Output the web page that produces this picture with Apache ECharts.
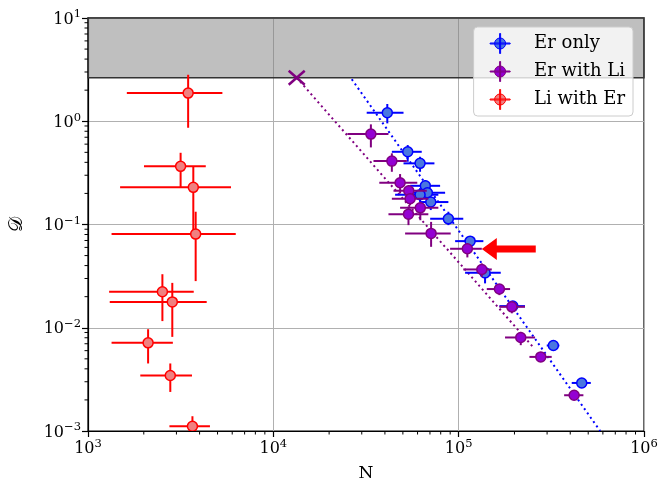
<!DOCTYPE html>
<html>
<head>
<meta charset="utf-8">
<script src="https://cdn.jsdelivr.net/npm/echarts@6/dist/echarts.min.js"></script>
<style>html,body{margin:0;padding:0;background:#fff}#c{width:660px;height:483px}</style>
</head>
<body>
<div id="c"></div>
<script>
// Each row: [N, N_low, N_high, D, D_low, D_high]
const erOnly = [
  [41200, 31900, 50400, 1.21, 0.954, 1.47],
  [53100, 43600, 63200, 0.506, 0.405, 0.588],
  [61900, 50400, 74000, 0.391, 0.324, 0.453],
  [66100, 54700, 79400, 0.237, 0.2015, 0.269],
  [67800, 56100, 84500, 0.203, 0.172, 0.236],
  [61900, 45400, 77700, 0.194, 0.165, 0.225],
  [70700, 61900, 88000, 0.165, 0.138, 0.185],
  [88000, 70200, 105900, 0.1135, 0.0986, 0.133],
  [115300, 95700, 135900, 0.069, 0.0608, 0.0773],
  [138800, 108300, 168700, 0.034, 0.0269, 0.0389],
  [195900, 165900, 228000, 0.0162, 0.0142, 0.0181],
  [324300, 298700, 349400, 0.00673, 0.0063, 0.0072],
  [461400, 407400, 516400, 0.00292, 0.00275, 0.0031]
];
const erWithLi = [
  [33600, 25100, 41800, 0.751, 0.558, 0.933],
  [43600, 34700, 52500, 0.411, 0.324, 0.489],
  [48300, 37300, 59800, 0.2535, 0.200, 0.308],
  [53800, 44500, 67300, 0.212, 0.185, 0.241],
  [54700, 43600, 68600, 0.1775, 0.154, 0.200],
  [62100, 48300, 77700, 0.145, 0.110, 0.166],
  [53600, 41800, 68600, 0.126, 0.0986, 0.149],
  [71000, 51400, 90600, 0.082, 0.0608, 0.106],
  [111400, 89900, 133300, 0.0582, 0.048, 0.0656],
  [133300, 105900, 150900, 0.0367, 0.0311, 0.042],
  [165900, 141800, 189400, 0.0237, 0.0207, 0.0265],
  [193600, 165900, 228000, 0.01595, 0.0138, 0.0181],
  [216300, 177900, 258400, 0.00805, 0.00678, 0.00912],
  [277300, 240900, 317700, 0.00522, 0.00468, 0.00583],
  [419800, 370700, 471000, 0.00222, 0.00199, 0.00248]
];
const liWithEr = [
  [3470, 1620, 5310, 1.875, 0.865, 2.82],
  [3160, 2005, 4320, 0.366, 0.229, 0.495],
  [3700, 1490, 5910, 0.229, 0.0826, 0.362],
  [3810, 1340, 6270, 0.0807, 0.0283, 0.133],
  [2520, 1300, 3720, 0.0223, 0.0116, 0.033],
  [2850, 1310, 4370, 0.0178, 0.00816, 0.0272],
  [2110, 1340, 2870, 0.00714, 0.00451, 0.00968],
  [2780, 1915, 3640, 0.00345, 0.00239, 0.00451],
  [3660, 2750, 4550, 0.00111, 0.00089, 0.00139]
];
const limitPoint = [13370, 2.64];
const bandRange = [2.64, 10];
const fitErOnly = [[26500, 2.55], [580000, 0.001]];
const fitErWithLi = [[13370, 2.64], [252000, 0.0065]];
const arrowPts = [[133300, 0.0578, 260600, 0.0578]];
const xRange = [1e3, 1e6];
const yRange = [1e-3, 10];
const minorMultipliers = [2, 3, 4, 5, 6, 7, 8, 9];
const xDecades = [1e3, 1e4, 1e5];
const yDecades = [1e-3, 1e-2, 1e-1, 1];

const F = 'DejaVu Serif';
const C = {
  blueLine: '#0000ff', blueFace: '#4a77e0',
  purpLine: '#800080', purpFace: '#9400d3',
  redLine: '#ff0000', redFace: '#f08080'
};

const xMinor = [], yMinor = [];
xDecades.forEach(d => minorMultipliers.forEach(m => xMinor.push([d * m, yRange[0]])));
yDecades.forEach(d => minorMultipliers.forEach(m => yMinor.push([xRange[0], d * m])));

function barsRender(color) {
  return function (params, api) {
    const x = api.value(0), xl = api.value(1), xh = api.value(2);
    const y = api.value(3), yl = api.value(4), yh = api.value(5);
    const a = api.coord([xl, y]), b = api.coord([xh, y]);
    const d = api.coord([x, yl]), e = api.coord([x, yh]);
    return { type: 'group', children: [
      { type: 'line', shape: { x1: a[0], y1: a[1], x2: b[0], y2: b[1] }, style: { stroke: color, lineWidth: 2 } },
      { type: 'line', shape: { x1: d[0], y1: d[1], x2: e[0], y2: e[1] }, style: { stroke: color, lineWidth: 2 } }
    ]};
  };
}
function markRender(face, edge) {
  return function (params, api) {
    const c = api.coord([api.value(0), api.value(3)]);
    return { type: 'circle', shape: { cx: c[0], cy: c[1], r: 5 }, style: { fill: face, stroke: edge, lineWidth: 1.5 } };
  };
}
const enc6 = { x: [0, 1, 2], y: [3, 4, 5] };

function errSeries(name, data, line, face, z) {
  return [
    { name: name, type: 'custom', coordinateSystem: 'cartesian2d', data: data, encode: enc6, z: z,
      renderItem: barsRender(line), itemStyle: { color: face }, silent: true, clip: true },
    { name: name, type: 'custom', coordinateSystem: 'cartesian2d', data: data, encode: enc6, z: z + 0.5,
      renderItem: markRender(face, line), itemStyle: { color: face }, silent: true, clip: true }
  ];
}

const ebIcon = 'path://M0,9.5 L20,9.5 L20,10.5 L0,10.5 Z M9.5,0 L10.5,0 L10.5,20 L9.5,20 Z M15.5,10 A5.5,5.5 0 1,1 4.5,10 A5.5,5.5 0 1,1 15.5,10 Z';

function fmt(v) {
  const e = Math.round(Math.log10(v));
  return '{b|10}{s|' + (e < 0 ? '\u2212' + (-e) : e) + '}';
}
const rich = {
  b: { fontFamily: F, fontSize: 16, color: '#000', verticalAlign: 'bottom' },
  s: { fontFamily: F, fontSize: 11.5, color: '#000', verticalAlign: 'bottom', padding: [0, 0, 7, 0] }
};

const chart = echarts.init(document.getElementById('c'), null, { renderer: 'canvas' });
chart.setOption({
  animation: false,
  backgroundColor: '#fff',
  grid: { left: 88, right: 16, top: 18, bottom: 52, containLabel: false, outerBoundsMode: 'none',
    show: true, borderColor: '#000', borderWidth: 1.2, backgroundColor: 'transparent' },
  legend: {
    orient: 'vertical', right: 27, top: 27,
    backgroundColor: 'rgba(255,255,255,0.8)', borderColor: '#cccccc', borderWidth: 1, borderRadius: 4,
    padding: [6, 8, 6, 16], itemGap: 7, itemWidth: 20, itemHeight: 20,
    textStyle: { fontFamily: F, fontSize: 18, color: '#000', padding: [0, 0, 0, 19] },
    data: [
      { name: 'Er only', icon: ebIcon, itemStyle: { color: C.blueFace, borderColor: C.blueLine, borderWidth: 1 } },
      { name: 'Er with Li', icon: ebIcon, itemStyle: { color: C.purpFace, borderColor: C.purpLine, borderWidth: 1 } },
      { name: 'Li with Er', icon: ebIcon, itemStyle: { color: C.redFace, borderColor: C.redLine, borderWidth: 1 } }
    ]
  },
  xAxis: {
    type: 'log', logBase: 10, min: xRange[0], max: xRange[1],
    name: 'N', nameLocation: 'middle', nameGap: 34,
    nameTextStyle: { fontFamily: F, fontSize: 17, color: '#000' },
    axisLine: { show: true, lineStyle: { color: '#000', width: 1.2 } },
    axisTick: { show: true, length: 6, lineStyle: { color: '#000', width: 1.2 } },
    axisLabel: { color: '#000', margin: 7, formatter: fmt, rich: rich },
    splitLine: { show: true, lineStyle: { color: '#b0b0b0', width: 1 } },
    minorTick: { show: false }, minorSplitLine: { show: false }
  },
  yAxis: {
    type: 'log', logBase: 10, min: yRange[0], max: yRange[1],
    name: '\uD835\uDC9F', nameLocation: 'middle', nameGap: 61, nameRotate: 90,
    nameTextStyle: { fontFamily: F, fontSize: 19, color: '#000' },
    axisLine: { show: true, lineStyle: { color: '#000', width: 1.2 } },
    axisTick: { show: true, length: 6, lineStyle: { color: '#000', width: 1.2 } },
    axisLabel: { color: '#000', margin: 7, formatter: fmt, rich: rich },
    splitLine: { show: true, lineStyle: { color: '#b0b0b0', width: 1 } },
    minorTick: { show: false }, minorSplitLine: { show: false }
  },
  series: [
    { type: 'line', name: 'fitEr', data: fitErOnly, symbol: 'none', z: 1, silent: true,
      lineStyle: { color: C.blueLine, width: 2, type: [2, 3.3] },
      markArea: { silent: true, itemStyle: { color: 'rgba(128,128,128,0.5)', borderColor: '#333', borderWidth: 1.5 },
        data: [[{ yAxis: bandRange[0] }, { yAxis: bandRange[1] }]] } },
    { type: 'line', name: 'fitErLi', data: fitErWithLi, symbol: 'none', z: 1, silent: true,
      lineStyle: { color: C.purpLine, width: 2, type: [2, 3.3] } },
    ...errSeries('Er only', erOnly, C.blueLine, C.blueFace, 3),
    ...errSeries('Er with Li', erWithLi, C.purpLine, C.purpFace, 4),
    ...errSeries('Li with Er', liWithEr, C.redLine, C.redFace, 5),
    { type: 'custom', name: 'limit', coordinateSystem: 'cartesian2d', data: [limitPoint], z: 6, silent: true,
      renderItem: function (p, api) {
        const c = api.coord([api.value(0), api.value(1)]);
        return { type: 'group', children: [
          { type: 'line', shape: { x1: c[0] - 8, y1: c[1] - 7, x2: c[0] + 8, y2: c[1] + 7 }, style: { stroke: C.purpLine, lineWidth: 2.5 } },
          { type: 'line', shape: { x1: c[0] - 8, y1: c[1] + 7, x2: c[0] + 8, y2: c[1] - 7 }, style: { stroke: C.purpLine, lineWidth: 2.5 } }
        ]};
      } },
    { type: 'custom', name: 'arrow', coordinateSystem: 'cartesian2d', data: arrowPts, encode: { x: [0, 2], y: [1, 3] }, z: 7, silent: true,
      renderItem: function (p, api) {
        const t = api.coord([api.value(0), api.value(1)]);
        const e = api.coord([api.value(2), api.value(3)]);
        const L = 15, H = 11, T = 3.5;
        return { type: 'polygon', shape: { points: [
          [t[0], t[1]], [t[0] + L, t[1] - H], [t[0] + L, t[1] - T], [e[0], e[1] - T],
          [e[0], e[1] + T], [t[0] + L, t[1] + T], [t[0] + L, t[1] + H]] },
          style: { fill: '#ff0000' } };
      } },
    { type: 'custom', name: 'xminor', coordinateSystem: 'cartesian2d', data: xMinor, z: 8, silent: true, clip: false,
      renderItem: function (p, api) {
        const c = api.coord([api.value(0), api.value(1)]);
        return { type: 'line', shape: { x1: c[0], y1: c[1], x2: c[0], y2: c[1] + 3.5 }, style: { stroke: '#000', lineWidth: 1 } };
      } },
    { type: 'custom', name: 'yminor', coordinateSystem: 'cartesian2d', data: yMinor, z: 8, silent: true, clip: false,
      renderItem: function (p, api) {
        const c = api.coord([api.value(0), api.value(1)]);
        return { type: 'line', shape: { x1: c[0], y1: c[1], x2: c[0] - 3.5, y2: c[1] }, style: { stroke: '#000', lineWidth: 1 } };
      } }
  ]
});
</script>
</body>
</html>
